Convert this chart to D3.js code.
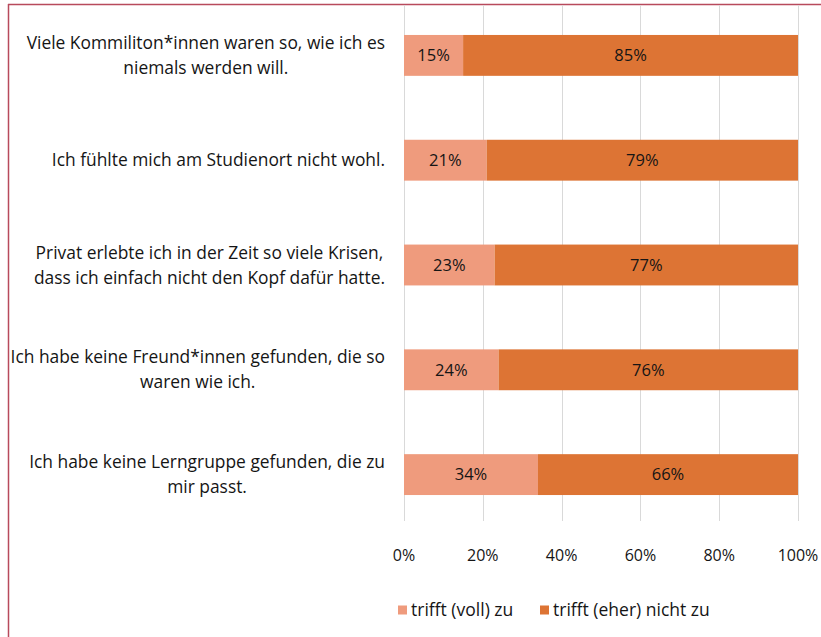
<!DOCTYPE html>
<html>
<head>
<meta charset="utf-8">
<script src="https://cdn.jsdelivr.net/npm/d3@7"></script>
<style>
  body { margin: 0; background: #fff; }
  svg { display: block; font-family: "Open Sans", sans-serif; }
</style>
</head>
<body>
<div id="chart"></div>
<script>
var svgWidth = 821;
var svgHeight = 637;

// Data
var statements = [
  ["Viele Kommiliton*innen waren so, wie ich es", "niemals werden will."],
  ["Ich fühlte mich am Studienort nicht wohl."],
  ["Privat erlebte ich in der Zeit so viele Krisen,", "dass ich einfach nicht den Kopf dafür hatte."],
  ["Ich habe keine Freund*innen gefunden, die so", "waren wie ich."],
  ["Ich habe keine Lerngruppe gefunden, die zu", "mir passt."]
];
var trifftZu = [15, 21, 23, 24, 34];
var trifftNichtZu = [85, 79, 77, 76, 66];
var seriesNames = ["trifft (voll) zu", "trifft (eher) nicht zu"];
var xTicks = [0, 20, 40, 60, 80, 100];

var colors = ["#ef9b7d", "#dd7434"];
var textColor = "#151515";

var svg = d3.select("#chart")
  .append("svg")
  .attr("width", svgWidth)
  .attr("height", svgHeight);

// frame (only top and left visible)
svg.append("line")
  .attr("x1", 8).attr("x2", svgWidth).attr("y1", 4.5).attr("y2", 4.5)
  .attr("stroke", "#b84a5c").attr("stroke-width", 1.5);
svg.append("line")
  .attr("x1", 8.5).attr("x2", 8.5).attr("y1", 4).attr("y2", svgHeight)
  .attr("stroke", "#b84a5c").attr("stroke-width", 1.5);

var xScale = d3.scaleLinear()
  .domain([0, 100])
  .range([404, 798]);

var yScale = d3.scaleBand()
  .domain(d3.range(statements.length))
  .range([3, 527])
  .paddingInner(0.61)
  .paddingOuter(0.305);

// gridlines
svg.append("g")
  .selectAll("line")
  .data(xTicks)
  .enter()
  .append("line")
  .attr("x1", d => Math.round(xScale(d)) + 0.5)
  .attr("x2", d => Math.round(xScale(d)) + 0.5)
  .attr("y1", 5)
  .attr("y2", 521)
  .attr("stroke", "#d9d9d9")
  .attr("stroke-width", 1);

// stacked bars
var stackData = trifftZu.map((v, i) => ({ i: i, a: v, b: trifftNichtZu[i] }));

var rows = svg.append("g")
  .selectAll("g")
  .data(stackData)
  .enter()
  .append("g");

rows.append("rect")
  .attr("x", xScale(0))
  .attr("y", d => yScale(d.i))
  .attr("width", d => xScale(d.a) - xScale(0))
  .attr("height", yScale.bandwidth())
  .attr("fill", colors[0]);

rows.append("rect")
  .attr("x", d => xScale(d.a))
  .attr("y", d => yScale(d.i))
  .attr("width", d => xScale(d.a + d.b) - xScale(d.a))
  .attr("height", yScale.bandwidth())
  .attr("fill", colors[1]);

rows.append("text")
  .attr("x", d => (xScale(0) + xScale(d.a)) / 2)
  .attr("y", d => yScale(d.i) + yScale.bandwidth() / 2)
  .attr("dy", "0.35em")
  .attr("text-anchor", "middle")
  .attr("font-size", 16.5)
  .attr("fill", textColor)
  .text(d => d.a + "%");

rows.append("text")
  .attr("x", d => (xScale(d.a) + xScale(d.a + d.b)) / 2)
  .attr("y", d => yScale(d.i) + yScale.bandwidth() / 2)
  .attr("dy", "0.35em")
  .attr("text-anchor", "middle")
  .attr("font-size", 16.5)
  .attr("fill", textColor)
  .text(d => d.b + "%");

// category labels, lines centered inside a block right-aligned to the axis
var lineHeight = 25;
var labelRight = 385;
statements.forEach(function(lines, i) {
  var cy = yScale(i) + yScale.bandwidth() / 2;
  var g = svg.append("g");
  var texts = lines.map(function(line, j) {
    return g.append("text")
      .attr("y", cy + (j - (lines.length - 1) / 2) * lineHeight)
      .attr("dy", "0.35em")
      .attr("text-anchor", "middle")
      .attr("font-size", 17.4)
      .attr("fill", textColor)
      .text(line);
  });
  var maxW = d3.max(texts, t => t.node().getComputedTextLength());
  texts.forEach(t => t.attr("x", labelRight - maxW / 2));
});

// x axis tick labels
svg.append("g")
  .selectAll("text")
  .data(xTicks)
  .enter()
  .append("text")
  .attr("x", d => xScale(d))
  .attr("y", 555)
  .attr("dy", "0.35em")
  .attr("text-anchor", "middle")
  .attr("font-size", 16)
  .attr("fill", textColor)
  .text(d => d + "%");

// legend
var legendX = [398, 540];
var legend = svg.append("g")
  .selectAll("g")
  .data(seriesNames)
  .enter()
  .append("g")
  .attr("transform", (d, i) => `translate(${legendX[i]}, 610)`);

legend.append("rect")
  .attr("x", 0)
  .attr("y", -4.5)
  .attr("width", 9)
  .attr("height", 9)
  .attr("fill", (d, i) => colors[i]);

legend.append("text")
  .attr("x", 13)
  .attr("y", 0)
  .attr("dy", "0.35em")
  .attr("font-size", 17.5)
  .attr("fill", textColor)
  .text(d => d);
</script>
</body>
</html>
